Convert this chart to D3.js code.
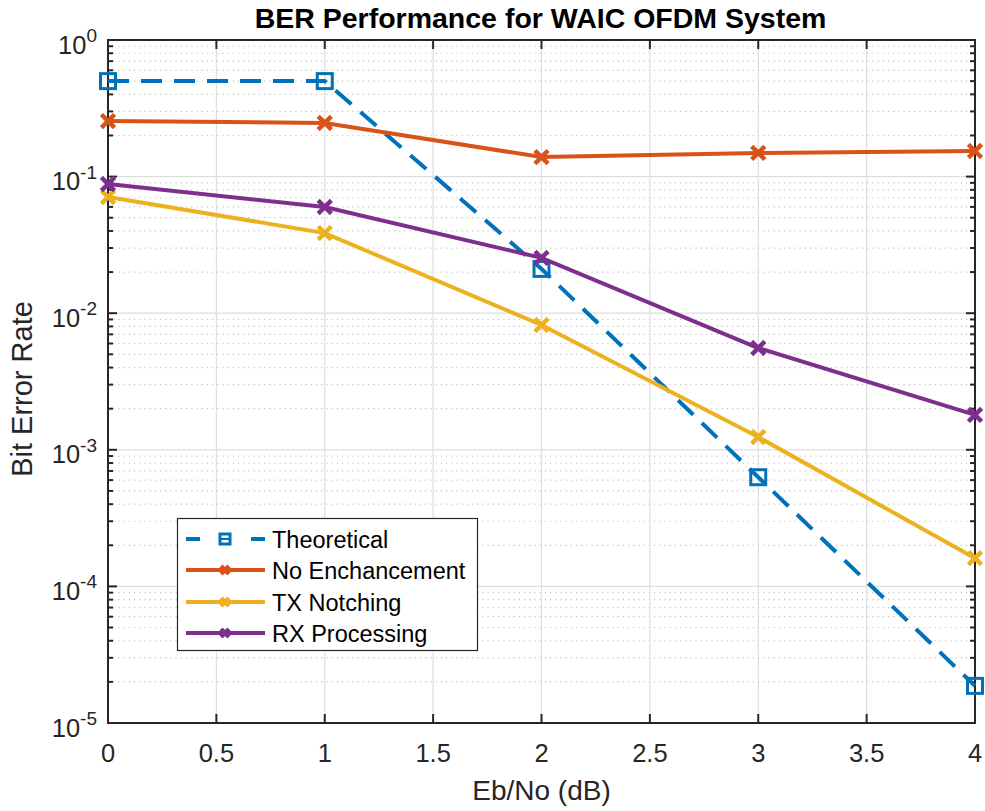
<!DOCTYPE html>
<html>
<head>
<meta charset="utf-8">
<script src="https://cdn.jsdelivr.net/npm/d3@7"></script>
<style>
  html, body { margin: 0; padding: 0; background: #fff; }
  svg { display: block; }
  text { font-family: "Liberation Sans", Arial, sans-serif; fill: #262626; }
</style>
</head>
<body>
<svg id="chart" width="985" height="811"></svg>
<script>
// Eb/No sweep (dB)
const ebno = [0, 1, 2, 3, 4];

// Bit error rate per scheme
const theoretical     = [0.50, 0.50, 0.0211, 6.3e-4, 1.87e-5];
const noEnhancement   = [0.255, 0.247, 0.139, 0.149, 0.154];
const txNotching      = [0.0709, 0.0386, 0.0082, 1.24e-3, 1.61e-4];
const rxProcessing    = [0.0883, 0.0599, 0.0254, 5.56e-3, 1.80e-3];

const seriesNames  = ["Theoretical", "No Enchancement", "TX Notching", "RX Processing"];
const seriesColors = ["#0072BD", "#D95319", "#EDB120", "#7E2F8E"];
const seriesValues = [theoretical, noEnhancement, txNotching, rxProcessing];

const xTicks = [0, 0.5, 1, 1.5, 2, 2.5, 3, 3.5, 4];
const yExponents = [0, -1, -2, -3, -4, -5];

const titleText = "BER Performance for WAIC OFDM System";
const xLabelText = "Eb/No (dB)";
const yLabelText = "Bit Error Rate";

const svg = d3.select("#chart");
const pLeft = 108, pTop = 40, pRight = 975, pBottom = 723;

const x = d3.scaleLinear().domain([0, 4]).range([pLeft, pRight]);
const y = d3.scaleLog().domain([1e-5, 1]).range([pBottom, pTop]);

const axisColor = "#262626";

// minor (dotted) grid lines inside each decade
const minorVals = [];
for (let e = -5; e < 0; e++) {
  for (let m = 2; m <= 9; m++) minorVals.push(m * Math.pow(10, e));
}
const grid = svg.append("g");
grid.selectAll("line.minor").data(minorVals).enter().append("line")
  .attr("x1", pLeft).attr("x2", pRight)
  .attr("y1", d => y(d)).attr("y2", d => y(d))
  .attr("stroke", "#c4c4c4").attr("stroke-width", 1.2)
  .attr("stroke-dasharray", "1.2,4");

// major grid
grid.selectAll("line.majy").data(yExponents).enter().append("line")
  .attr("x1", pLeft).attr("x2", pRight)
  .attr("y1", d => y(Math.pow(10, d))).attr("y2", d => y(Math.pow(10, d)))
  .attr("stroke", "#dedede").attr("stroke-width", 1.2);
grid.selectAll("line.majx").data(xTicks).enter().append("line")
  .attr("x1", d => x(d)).attr("x2", d => x(d))
  .attr("y1", pTop).attr("y2", pBottom)
  .attr("stroke", "#dedede").attr("stroke-width", 1.2);

// axes frame and ticks
const axes = svg.append("g");
axes.append("rect").attr("x", pLeft).attr("y", pTop)
  .attr("width", pRight - pLeft).attr("height", pBottom - pTop)
  .attr("fill", "none").attr("stroke", axisColor).attr("stroke-width", 2);

xTicks.forEach(t => {
  axes.append("line").attr("x1", x(t)).attr("x2", x(t))
    .attr("y1", pBottom).attr("y2", pBottom - 9)
    .attr("stroke", axisColor).attr("stroke-width", 2);
  axes.append("line").attr("x1", x(t)).attr("x2", x(t))
    .attr("y1", pTop).attr("y2", pTop + 9)
    .attr("stroke", axisColor).attr("stroke-width", 2);
});
yExponents.forEach(e => {
  const yy = y(Math.pow(10, e));
  axes.append("line").attr("x1", pLeft).attr("x2", pLeft + 9)
    .attr("y1", yy).attr("y2", yy).attr("stroke", axisColor).attr("stroke-width", 2);
  axes.append("line").attr("x1", pRight).attr("x2", pRight - 9)
    .attr("y1", yy).attr("y2", yy).attr("stroke", axisColor).attr("stroke-width", 2);
});
minorVals.forEach(v => {
  const yy = y(v);
  axes.append("line").attr("x1", pLeft).attr("x2", pLeft + 5)
    .attr("y1", yy).attr("y2", yy).attr("stroke", axisColor).attr("stroke-width", 2);
  axes.append("line").attr("x1", pRight).attr("x2", pRight - 5)
    .attr("y1", yy).attr("y2", yy).attr("stroke", axisColor).attr("stroke-width", 2);
});

// tick labels
svg.selectAll("text.xt").data(xTicks).enter().append("text")
  .attr("x", d => x(d)).attr("y", pBottom + 39)
  .attr("text-anchor", "middle").attr("font-size", 25.5)
  .text(d => String(d));

yExponents.forEach(e => {
  const yy = y(Math.pow(10, e));
  const t = svg.append("text").attr("x", 97).attr("y", yy + 13.5)
    .attr("text-anchor", "end").attr("font-size", 25.5);
  t.append("tspan").text("10");
  t.append("tspan").attr("font-size", 19).attr("dy", -11.5).text(String(e));
});

// axis labels and title
svg.append("text").attr("x", (pLeft + pRight) / 2).attr("y", 800)
  .attr("text-anchor", "middle").attr("font-size", 28).text(xLabelText);
svg.append("text")
  .attr("transform", `translate(32, 389) rotate(-90)`)
  .attr("text-anchor", "middle").attr("font-size", 29).text(yLabelText);
svg.append("text").attr("x", (pLeft + pRight) / 2 - 1).attr("y", 28)
  .attr("text-anchor", "middle").attr("font-size", 28.5).attr("font-weight", "bold")
  .style("fill", "#000").text(titleText);

// series
const line = d3.line().x((d, i) => x(ebno[i])).y(d => y(d));
const crossPath = "M-5,-5L5,5M-5,5L5,-5";

function drawMarker(g, kind, color, cx, cy, s) {
  if (kind === "square") {
    g.append("rect").attr("x", cx - s).attr("y", cy - s)
      .attr("width", 2 * s).attr("height", 2 * s)
      .attr("fill", "none").attr("stroke", color).attr("stroke-width", 3);
  } else {
    g.append("path").attr("d", crossPath)
      .attr("transform", `translate(${cx},${cy})`)
      .attr("fill", "none").attr("stroke", color).attr("stroke-width", 4.5)
      .attr("stroke-linecap", "square");
  }
}

const plot = svg.append("g");
seriesValues.forEach((vals, si) => {
  const color = seriesColors[si];
  const g = plot.append("g");
  g.append("path").attr("d", line(vals))
    .attr("fill", "none").attr("stroke", color).attr("stroke-width", 4)
    .attr("stroke-dasharray", si === 0 ? "21,12" : null);
  vals.forEach((v, i) => drawMarker(g, si === 0 ? "square" : "cross", color, x(ebno[i]), y(v), 7.5));
});

// legend
const lg = svg.append("g");
lg.append("rect").attr("x", 177.5).attr("y", 518.5).attr("width", 300).attr("height", 132)
  .attr("fill", "#fff").attr("stroke", axisColor).attr("stroke-width", 1.2);
const rowY = [539, 570, 602, 633];
seriesNames.forEach((name, si) => {
  const color = seriesColors[si];
  const ry = rowY[si];
  if (si === 0) {
    lg.append("line").attr("x1", 186).attr("x2", 200).attr("y1", ry).attr("y2", ry)
      .attr("stroke", color).attr("stroke-width", 4);
    lg.append("line").attr("x1", 251).attr("x2", 265).attr("y1", ry).attr("y2", ry)
      .attr("stroke", color).attr("stroke-width", 4);
    lg.append("rect").attr("x", 220).attr("y", ry - 5).attr("width", 10).attr("height", 10)
      .attr("fill", "none").attr("stroke", color).attr("stroke-width", 3);
    lg.append("line").attr("x1", 220).attr("x2", 230).attr("y1", ry).attr("y2", ry)
      .attr("stroke", color).attr("stroke-width", 2);
  } else {
    lg.append("line").attr("x1", 186).attr("x2", 265).attr("y1", ry).attr("y2", ry)
      .attr("stroke", color).attr("stroke-width", 4);
    lg.append("path").attr("d", "M-4,-4L4,4M-4,4L4,-4")
      .attr("transform", `translate(225,${ry})`)
      .attr("fill", "none").attr("stroke", color).attr("stroke-width", 4.5);
  }
  lg.append("text").attr("x", 272).attr("y", ry + 8.5)
    .attr("font-size", 23.5).style("fill", "#000").text(name);
});
</script>
</body>
</html>
